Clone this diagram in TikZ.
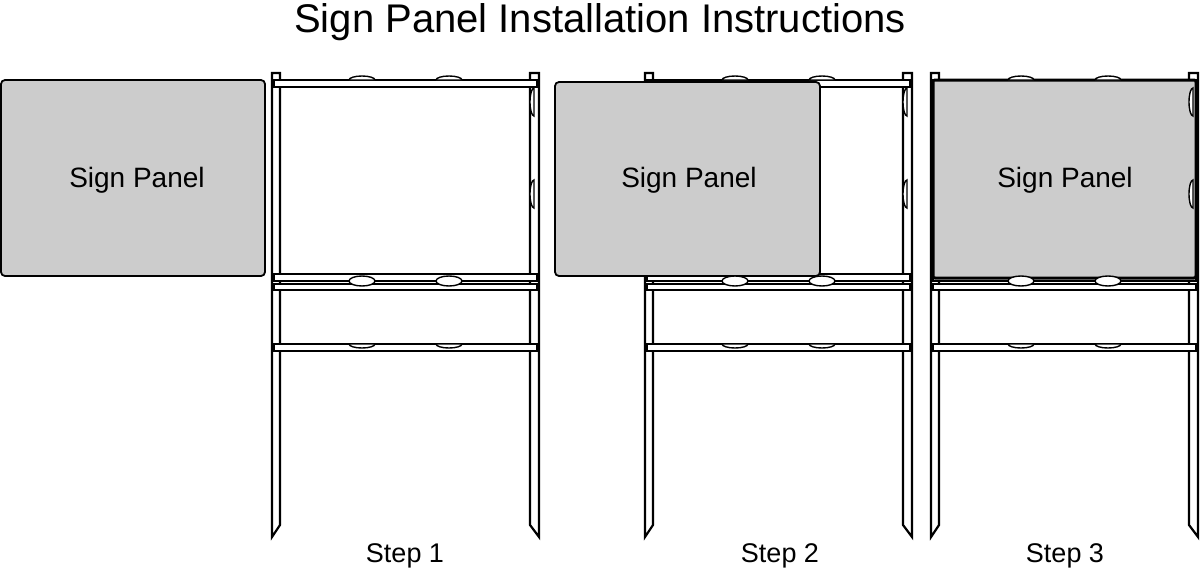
\documentclass[tikz,border=0pt]{standalone}
\usepackage{fontspec}
\setmainfont{Liberation Sans}
\tikzset{
  post/.style = {draw=black, fill=white, line width=2.2pt},
  rail/.style = {draw=black, fill=white, line width=2.2pt},
  clip_E/.style = {draw=black, fill=white, line width=1.4pt},
  panel/.style = {draw=black, fill=gray!40, line width=1.8pt, rounded corners=4pt},
  label_P/.style = {font=\fontsize{28}{32}\selectfont},
  label_S/.style = {font=\fontsize{27}{32}\selectfont}
}
% one stand, left post at #1
\newcommand{\standframe}[1]{
  % posts:
  \draw[post] (#1,73) -- (#1,537) -- (#1+8,525) -- (#1+8,73) -- cycle;
  \draw[post] (#1+258,73) -- (#1+258,525) -- (#1+267,537) -- (#1+267,73) -- cycle;
  % rails:
  \draw[rail] (#1+2,80) rectangle (#1+265,87);
  \draw[rail] (#1+2,274) rectangle (#1+265,281);
  \draw[rail] (#1+2,284) rectangle (#1+265,290);
  \draw[rail] (#1+2,344) rectangle (#1+265,351);
}
\newcommand{\standclips}[1]{
  \foreach \dx in {90,177} {
    \draw[clip_E] (#1+\dx-13,80) arc (180:360:13 and 4) -- cycle;
    \draw[clip_E] (#1+\dx,281) ellipse (13 and 5);
    \draw[clip_E] (#1+\dx-13,344) arc (180:0:13 and 4) -- cycle;
  }
  \foreach \yy in {130,222} {
    \draw[clip_E] (#1+262,\yy-14) arc (90:270:4 and 14) -- cycle;
  }
}
\begin{document}
\begin{tikzpicture}[x=1pt,y=-1pt]
  \useasboundingbox (0,0) rectangle (1200,573);
  % Title:
  \node (title) at (600,22) {\fontsize{40}{46}\selectfont Sign Panel Installation Instructions};
  % Loose panel:
  \draw[panel] (1,80) rectangle (265,276);
  \node[label_P] (panel0) at (137,180) {Sign Panel};
  % Step 1:
  \standframe{272}
  \standclips{272}
  \node[label_S] (step1) at (405,556) {Step 1};
  % Step 2:
  \standframe{645}
  \draw[panel] (555,82) rectangle (820,276);
  \standclips{645}
  \node[label_P] (panel2) at (689,180) {Sign Panel};
  \node[label_S] (step2) at (780,556) {Step 2};
  % Step 3:
  \standframe{931}
  \draw[panel, line width=3pt, rounded corners=2pt] (933,80) rectangle (1196,278);
  \standclips{931}
  \node[label_P] (panel3) at (1065,180) {Sign Panel};
  \node[label_S] (step3) at (1065,556) {Step 3};
\end{tikzpicture}
\end{document}
